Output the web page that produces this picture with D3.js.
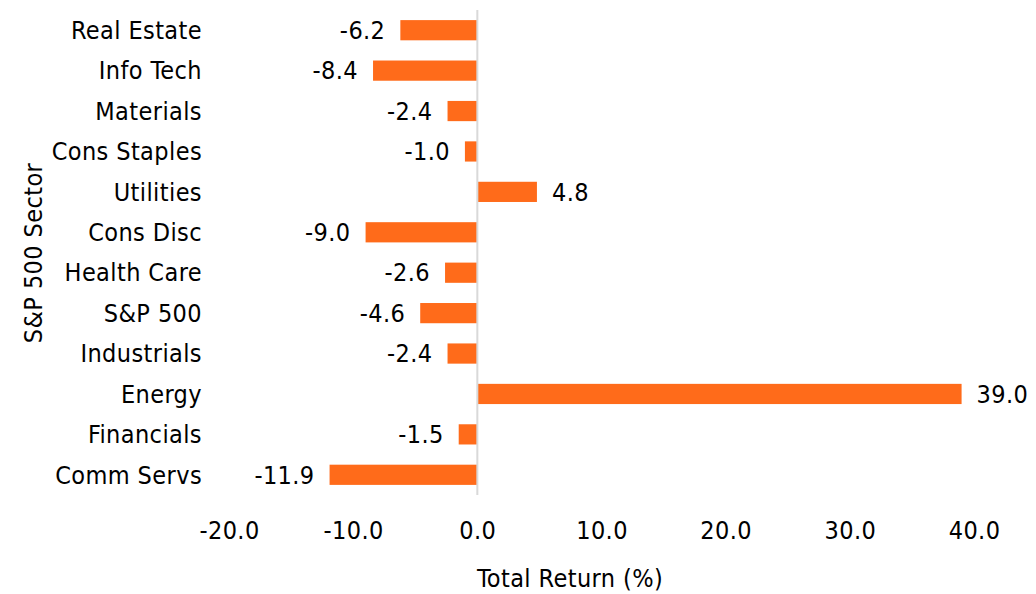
<!DOCTYPE html>
<html>
<head>
<meta charset="utf-8">
<script src="https://cdn.jsdelivr.net/npm/d3@7"></script>
<style>
  body { margin: 0; background: #fff; }
  text { font-family: "DejaVu Sans Condensed", "DejaVu Sans", Verdana, sans-serif; fill: #000; letter-spacing: 0.4px; }
</style>
</head>
<body>
<svg id="chart" width="1036" height="594"></svg>
<script>
// sectors top to bottom
var sectors = ["Real Estate", "Info Tech", "Materials", "Cons Staples", "Utilities",
  "Cons Disc", "Health Care", "S&P 500", "Industrials", "Energy", "Financials", "Comm Servs"];
var returns = [-6.2, -8.4, -2.4, -1.0, 4.8, -9.0, -2.6, -4.6, -2.4, 39.0, -1.5, -11.9];
var xTicks = [-20, -10, 0, 10, 20, 30, 40];

var svg = d3.select("#chart");
var fontSize = 25;
var fontFam = "\"DejaVu Sans Condensed\", \"DejaVu Sans\", Verdana, sans-serif";

var x = d3.scaleLinear().domain([-20, 40]).range([229, 974]);
var y = d3.scaleBand().domain(sectors).range([10, 495]).paddingInner(0.5).paddingOuter(0.25);

// bars
svg.selectAll("rect.bar")
  .data(returns)
  .enter().append("rect")
  .attr("class", "bar")
  .attr("x", function (d) { return Math.min(x(0), x(d)); })
  .attr("y", function (d, i) { return y(sectors[i]); })
  .attr("width", function (d) { return Math.abs(x(d) - x(0)); })
  .attr("height", y.bandwidth())
  .attr("fill", "#FF6B1A");

// zero line
svg.append("line")
  .attr("x1", x(0)).attr("x2", x(0))
  .attr("y1", 10).attr("y2", 495)
  .attr("stroke", "#D9D9D9")
  .attr("stroke-width", 2);

// value labels
svg.selectAll("text.val")
  .data(returns)
  .enter().append("text")
  .attr("class", "val")
  .attr("x", function (d) { return d < 0 ? x(d) - 15 : x(d) + 15; })
  .attr("y", function (d, i) { return y(sectors[i]) + y.bandwidth() / 2; })
  .attr("dy", "0.35em")
  .attr("text-anchor", function (d) { return d < 0 ? "end" : "start"; })
  .style("font-size", fontSize + "px")
  .text(function (d) { return d.toFixed(1); });

// category labels
svg.selectAll("text.cat")
  .data(sectors)
  .enter().append("text")
  .attr("class", "cat")
  .attr("x", 202)
  .attr("y", function (d) { return y(d) + y.bandwidth() / 2; })
  .attr("dy", "0.35em")
  .attr("text-anchor", "end")
  .style("font-size", fontSize + "px")
  .text(function (d) { return d; });

// x axis tick labels
var xAxis = d3.axisBottom(x).tickValues(xTicks).tickSize(0).tickPadding(0)
  .tickFormat(function (d) { return d.toFixed(1); });
var gx = svg.append("g").attr("transform", "translate(0,539)").call(xAxis);
gx.select(".domain").remove();
gx.selectAll("text")
  .attr("y", 0).attr("dy", 0)
  .style("font-size", fontSize + "px")
  .style("font-family", fontFam)
  .attr("fill", "#000");

// axis titles
svg.append("text")
  .attr("x", 570).attr("y", 587)
  .attr("text-anchor", "middle")
  .style("font-size", fontSize + "px")
  .text("Total Return (%)");

svg.append("text")
  .attr("transform", "translate(42,253) rotate(-90)")
  .attr("text-anchor", "middle")
  .style("font-size", fontSize + "px")
  .text("S&P 500 Sector");
</script>
</body>
</html>
